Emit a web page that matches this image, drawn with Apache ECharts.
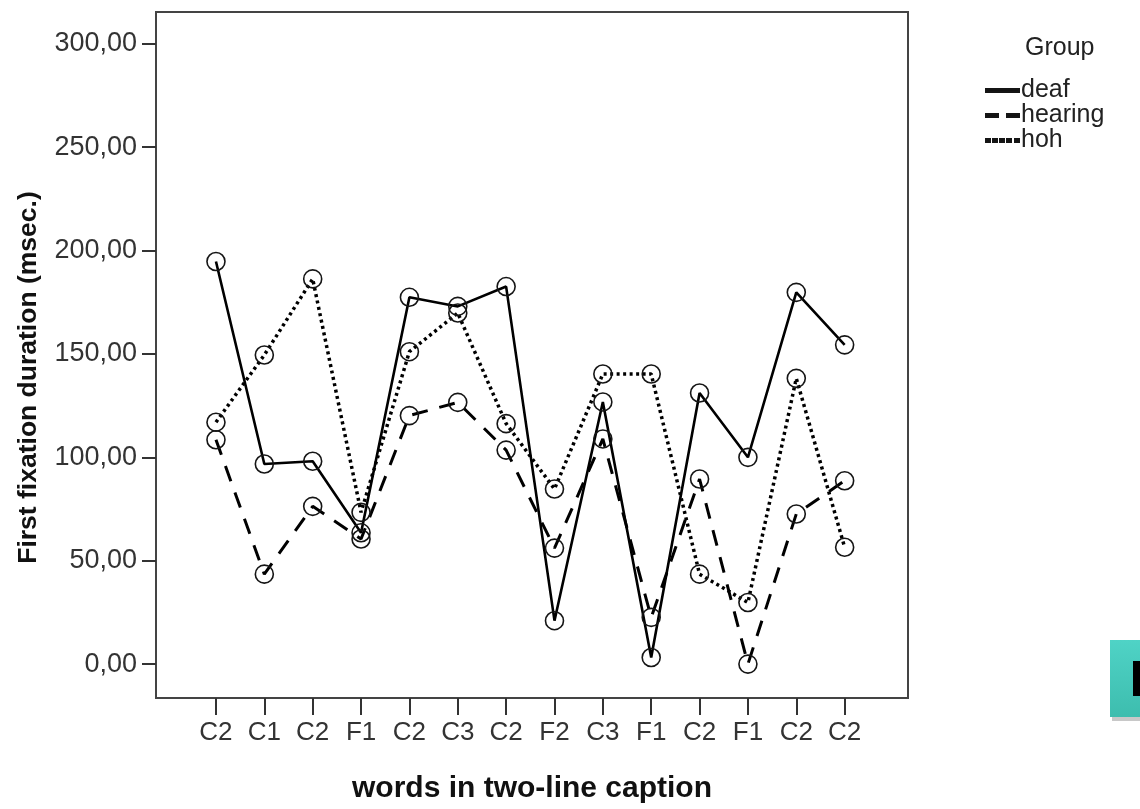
<!DOCTYPE html>
<html>
<head>
<meta charset="utf-8">
<title>First fixation duration</title>
<script src="https://cdn.jsdelivr.net/npm/echarts@6/dist/echarts.min.js"></script>
<style>
  html, body { margin: 0; padding: 0; background: #fff; }
  #box { width: 1140px; height: 809px; }
</style>
</head>
<body>
<div id="box"></div>
<script>
// words along the caption, in order
const words = ['C2', 'C1', 'C2', 'F1', 'C2', 'C3', 'C2', 'F2', 'C3', 'F1', 'C2', 'F1', 'C2', 'C2'];
// first fixation duration (msec.) per group
const deaf    = [194.7, 96.8, 98.1, 63.5, 177.4, 173.0, 182.6, 21.0, 126.8, 3.2, 131.1, 100.0, 179.8, 154.4];
const hearing = [108.5, 43.5, 76.3, 60.5, 120.2, 126.6, 103.5, 56.1, 108.9, 22.6, 89.5, 0.0, 72.6, 88.7];
const hoh     = [117.0, 149.5, 186.3, 73.4, 151.1, 169.8, 116.3, 84.7, 140.3, 140.3, 43.5, 29.8, 138.2, 56.5];
const yTicks  = [0, 50, 100, 150, 200, 250, 300];

const chartDom = document.getElementById('box');
const myChart = echarts.init(chartDom);

const font = "'Liberation Sans', Arial, sans-serif";
const narrow = "'Liberation Sans Narrow', 'Arial Narrow', 'Liberation Sans', Arial, sans-serif";
const idx = words.map((w, i) => i);

const marker = {
  symbol: 'circle',
  symbolSize: 18,
  itemStyle: { color: 'rgba(0,0,0,0)', borderColor: '#151515', borderWidth: 1.6 }
};

const mk = (name, vals, lineStyle) => Object.assign({
  name: name,
  type: 'line',
  data: vals.map((v, i) => [i, v]),
  lineStyle: lineStyle,
  emphasis: { disabled: true },
  z: 3
}, marker);

var option = {
  animation: false,
  backgroundColor: '#fff',
  title: {
    text: 'Group',
    left: 1020,
    top: 31,
    textStyle: { fontFamily: font, fontSize: 25, fontWeight: 'normal', color: '#222' }
  },
  legend: {
    orient: 'vertical',
    left: 985,
    top: 78,
    padding: 0,
    itemGap: 0,
    itemWidth: 33,
    itemHeight: 3,
    symbolKeepAspect: false,
    textStyle: { fontFamily: font, fontSize: 25, color: '#222', lineHeight: 23, padding: [0, 0, 0, -3] },
    data: [
      { name: 'deaf', icon: 'path://M0,0h33v3h-33z' },
      { name: 'hearing', icon: 'path://M0,0h12v3h-12zM21,0h12v3h-12z' },
      { name: 'hoh', icon: 'path://M0,0h4v3h-4zM7,0h4v3h-4zM14,0h4v3h-4zM21,0h4v3h-4zM29,0h4v3h-4z' }
    ],
    itemStyle: { color: '#111' },
    selectedMode: false
  },
  grid: {
    left: 156,
    right: 232,
    top: 12,
    bottom: 109,
    show: true,
    borderColor: '#444',
    borderWidth: 2,
    backgroundColor: '#fff'
  },
  xAxis: {
    type: 'value',
    min: -1.24,
    max: 14.31,
    name: 'words in two-line caption',
    nameLocation: 'middle',
    nameGap: 76,
    nameTextStyle: { fontFamily: font, fontSize: 30, fontWeight: 'bold', color: '#111' },
    axisLine: { show: true, onZero: false, lineStyle: { color: '#444', width: 2 } },
    axisTick: { show: true, customValues: idx, length: 17, lineStyle: { color: '#333', width: 2 } },
    axisLabel: {
      customValues: idx,
      formatter: v => words[v],
      margin: 22,
      fontFamily: narrow,
      fontSize: 26,
      color: '#333'
    },
    splitLine: { show: false }
  },
  yAxis: {
    type: 'value',
    min: -16.4,
    max: 315.4,
    name: 'First fixation duration (msec.)',
    nameLocation: 'middle',
    nameRotate: 90,
    nameGap: 114,
    nameTextStyle: {
      fontFamily: font, fontSize: 26.5, fontWeight: 'bold', color: '#111',
      padding: [0, 45, 0, 0]
    },
    axisLine: { show: true, onZero: false, lineStyle: { color: '#444', width: 2 } },
    axisTick: { show: true, customValues: yTicks, length: 14, lineStyle: { color: '#333', width: 2 } },
    axisLabel: {
      customValues: yTicks,
      formatter: v => v.toFixed(2).replace('.', ','),
      margin: 19,
      fontFamily: font,
      fontSize: 27,
      color: '#333'
    },
    splitLine: { show: false }
  },
  series: [
    mk('deaf', deaf, { color: '#000', width: 2.6, type: 'solid' }),
    mk('hearing', hearing, { color: '#000', width: 3, type: [16, 12] }),
    mk('hoh', hoh, { color: '#000', width: 3.5, type: [3, 3.5] })
  ],
  graphic: [
    // cropped teal widget at the bottom right edge of the screenshot
    { type: 'rect', shape: { x: 1112, y: 717, width: 28, height: 4 }, style: { fill: '#c8c8c8' } },
    {
      type: 'rect',
      shape: { x: 1110, y: 640, width: 30, height: 77 },
      style: {
        fill: new echarts.graphic.LinearGradient(0, 0, 0, 1, [
          { offset: 0, color: '#4fd3c6' },
          { offset: 1, color: '#3dbdae' }
        ])
      }
    },
    { type: 'rect', shape: { x: 1133, y: 661, width: 7, height: 35 }, style: { fill: '#000' } }
  ]
};

option && myChart.setOption(option);
window.addEventListener('resize', function () {
  if (myChart) {
    myChart.resize();
  }
});
</script>
</body>
</html>
